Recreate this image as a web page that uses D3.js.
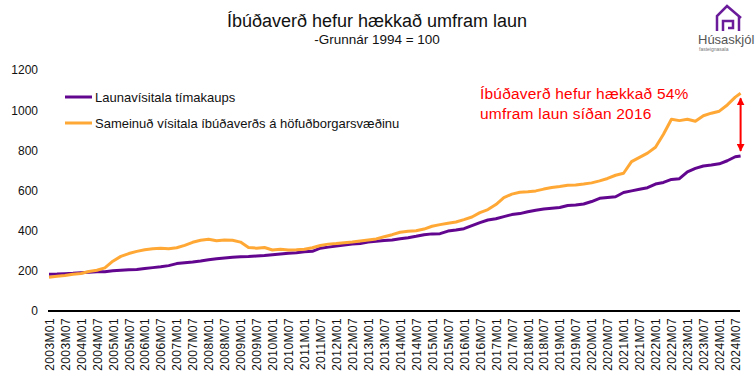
<!DOCTYPE html>
<html>
<head>
<meta charset="utf-8">
<script src="https://cdn.jsdelivr.net/npm/d3@7"></script>
<style>
  body { margin: 0; background: #fff; }
  svg { font-family: "Liberation Sans", Arial, sans-serif; }
</style>
</head>
<body>
<div id="chart"></div>
<script>
let width = 756;
let height = 379;

// Monthly categories 2003M01 .. 2024M09
const years = d3.range(2003, 2025);
const categories = [];
years.forEach(y => {
  for (let m = 1; m <= 12; m++) {
    if (y === 2024 && m > 9) break;
    categories.push(`${y}M${String(m).padStart(2, "0")}`);
  }
});
// Axis labels every 6 months
const tickLabels = categories.filter((d, i) => i % 6 === 0);
// Points: every third month plus the last month
const pointDates = categories.filter((d, i) => i % 3 === 0 || i === categories.length - 1);

const yTicks = [0, 200, 400, 600, 800, 1000, 1200];

const seriesNames = ["Launavísitala tímakaups", "Sameinuð vísitala íbúðaverðs á höfuðborgarsvæðinu"];

const wages = [
  183, 184, 186, 188, 191, 193, 195, 196, 200, 203,
  205, 207, 212, 216, 220, 226, 236, 240, 244, 249,
  255, 260, 264, 268, 270, 271, 274, 276, 280, 284,
  288, 290, 295, 297, 313, 318, 324, 328, 333, 336,
  343, 347, 351, 354, 360, 365, 372, 380, 384, 385,
  398, 403, 410, 425, 440, 453, 459, 470, 480, 485,
  494, 502, 508, 512, 515, 525, 528, 533, 545, 561,
  565, 569, 590, 598, 606, 614, 632, 640, 655, 659,
  693, 710, 722, 727, 733, 748, 768, 772
];

const housing = [
  168, 173, 177, 183, 187, 197, 203, 215, 248, 272,
  286, 297, 305, 310, 312, 310, 315, 327, 342, 352,
  357, 350, 353, 352, 343, 316, 313, 316, 304, 307,
  304, 305, 307, 315, 326, 333, 336, 340, 344, 349,
  354, 359, 370, 380, 392, 397, 400, 408, 422, 430,
  437, 443, 455, 468, 490, 505, 530, 565, 582, 591,
  594, 598, 607, 615, 620, 626, 627, 632, 638, 648,
  660, 676, 686, 744, 765, 786, 815, 880, 955, 948,
  955, 945, 972, 985, 995, 1026, 1065, 1084
];

const colors = ["#63068f", "#ffa836"];

const svg = d3.select("#chart")
  .append("svg")
  .attr("width", width)
  .attr("height", height);

// Scales
const x = d3.scalePoint()
  .domain(categories)
  .range([49, 740.6]);

const y = d3.scaleLinear()
  .domain([0, 1200])
  .range([311, 70]);

// Title
svg.append("text")
  .attr("x", 377).attr("y", 27)
  .attr("text-anchor", "middle")
  .style("font-size", "18px")
  .attr("fill", "#111")
  .text("Íbúðaverð hefur hækkað umfram laun");

svg.append("text")
  .attr("x", 377).attr("y", 44)
  .attr("text-anchor", "middle")
  .style("font-size", "13.5px")
  .attr("fill", "#111")
  .text("-Grunnár 1994 = 100");

// Y axis (labels only)
const yAxis = svg.append("g")
  .attr("transform", "translate(38,0)")
  .call(d3.axisLeft(y).tickValues(yTicks).tickFormat(d3.format("d")).tickSize(0).tickPadding(0));
yAxis.select(".domain").remove();
yAxis.selectAll("text")
  .style("font-size", "12px")
  .style("font-family", "'Liberation Sans', Arial, sans-serif")
  .attr("fill", "#111");

// X axis
const xAxis = svg.append("g")
  .attr("transform", `translate(0,${y(0)})`)
  .call(d3.axisBottom(x).tickValues(tickLabels).tickSize(0).tickSizeOuter(0));
xAxis.select(".domain")
  .attr("d", "M48,0H740")
  .attr("stroke", "#000")
  .attr("stroke-width", 2);
xAxis.selectAll("text")
  .attr("transform", "rotate(-90)")
  .attr("x", -7)
  .attr("y", 0)
  .attr("dy", "0.35em")
  .style("text-anchor", "end")
  .style("font-size", "12px")
  .style("font-family", "'Liberation Sans', Arial, sans-serif")
  .style("letter-spacing", "0.4px")
  .attr("fill", "#111");

// Lines
const line = d3.line()
  .x((d, i) => x(pointDates[i]))
  .y(d => y(d));

[wages, housing].forEach((s, i) => {
  svg.append("path")
    .datum(s)
    .attr("fill", "none")
    .attr("stroke", colors[i])
    .attr("stroke-width", 3)
    .attr("stroke-linejoin", "round")
    .attr("d", line);
});

// Legend
const legend = svg.append("g");
seriesNames.forEach((name, i) => {
  const ly = 97 + i * 26;
  legend.append("line")
    .attr("x1", 65).attr("x2", 92)
    .attr("y1", ly).attr("y2", ly)
    .attr("stroke", colors[i])
    .attr("stroke-width", 3);
  legend.append("text")
    .attr("x", 95).attr("y", ly)
    .attr("dy", "0.35em")
    .style("font-size", "13px")
    .attr("fill", "#111")
    .text(name);
});

// Annotation
svg.append("text")
  .attr("x", 480).attr("y", 99)
  .style("font-size", "15.5px")
  .style("letter-spacing", "0.2px")
  .attr("fill", "#ff0000")
  .text("Íbúðaverð hefur hækkað 54%");
svg.append("text")
  .attr("x", 480).attr("y", 119)
  .style("font-size", "15.5px")
  .style("letter-spacing", "0.2px")
  .attr("fill", "#ff0000")
  .text("umfram laun síðan 2016");

const defs = svg.append("defs");
defs.append("marker")
  .attr("id", "arrowhead")
  .attr("viewBox", "0 0 10 10")
  .attr("refX", 9).attr("refY", 5)
  .attr("markerWidth", 4).attr("markerHeight", 4)
  .attr("orient", "auto-start-reverse")
  .append("path")
  .attr("d", "M0,0L10,5L0,10z")
  .attr("fill", "#ff0000");

const lastDate = pointDates[pointDates.length - 1];
svg.append("line")
  .attr("x1", x(lastDate)).attr("x2", x(lastDate))
  .attr("y1", y(housing[housing.length - 1]) + 5)
  .attr("y2", y(wages[wages.length - 1]) - 5)
  .attr("stroke", "#ff0000")
  .attr("stroke-width", 2)
  .attr("marker-start", "url(#arrowhead)")
  .attr("marker-end", "url(#arrowhead)");

// Logo
const logo = svg.append("g");
logo.append("path")
  .attr("d", "M717,31V16L727,6L741,18M739,16V31M723,31V21H733V28H728")
  .attr("fill", "none")
  .attr("stroke", "#6a1b9a")
  .attr("stroke-width", 2.5);
logo.append("text")
  .attr("x", 698).attr("y", 44)
  .style("font-size", "13px")
  .attr("fill", "#555")
  .text("Húsaskjól");
logo.append("text")
  .attr("x", 699).attr("y", 51)
  .style("font-size", "5px")
  .attr("fill", "#777")
  .text("fasteignasala");
</script>
</body>
</html>
